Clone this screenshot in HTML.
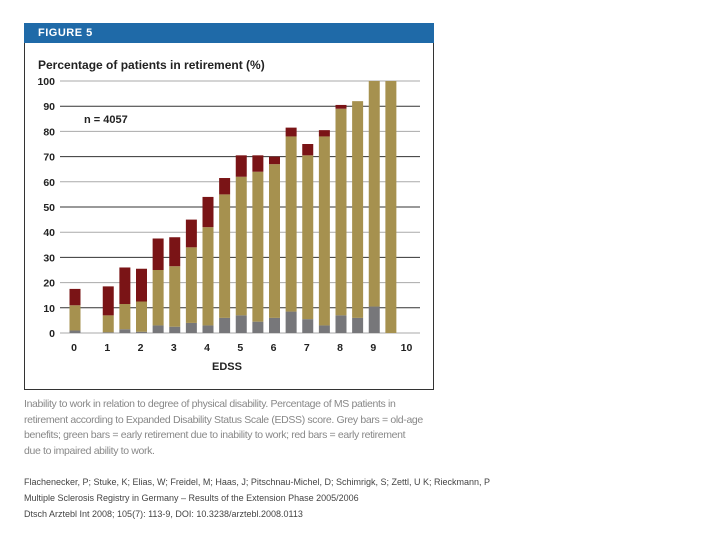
<!DOCTYPE html>
<html><head><meta charset="utf-8"><style>
body{margin:0;width:720px;height:540px;background:#fff;position:relative;overflow:hidden;font-family:"Liberation Sans",sans-serif}
.abs{position:absolute}
</style></head><body>
<div class="abs" style="left:24px;top:23px;width:408px;height:366px;border:1px solid #333;border-top:none"></div>
<div class="abs" style="left:24px;top:23px;width:410px;height:20px;background:#1f6aa8;color:#fff;font-weight:bold;font-size:11px;line-height:20px;padding-left:14px;box-sizing:border-box;letter-spacing:0.5px">FIGURE 5</div>
<svg class="abs" style="left:0;top:0" width="720" height="540">
<text x="38" y="69" font-size="12" font-weight="bold" fill="#222">Percentage of patients in retirement (%)</text>
<text x="84" y="123" font-size="11" font-weight="bold" fill="#222">n = 4057</text>
<text x="212" y="370" font-size="11" font-weight="bold" fill="#222">EDSS</text>
<g id="g"></g>
</svg>
<div class="abs" style="left:24px;top:397px;font-size:10.5px;line-height:15.5px;color:#888;white-space:nowrap;letter-spacing:-0.35px">Inability to work in relation to degree of physical disability. Percentage of MS patients in<br>retirement according to Expanded Disability Status Scale (EDSS) score. Grey bars = old-age<br>benefits; green bars = early retirement due to inability to work; red bars = early retirement<br>due to impaired ability to work.</div>
<div class="abs" style="left:24px;top:474px;font-size:9px;line-height:16px;color:#444;white-space:nowrap">Flachenecker, P; Stuke, K; Elias, W; Freidel, M; Haas, J; Pitschnau-Michel, D; Schimrigk, S; Zettl, U K; Rieckmann, P<br>Multiple Sclerosis Registry in Germany – Results of the Extension Phase 2005/2006<br>Dtsch Arztebl Int 2008; 105(7): 113-9, DOI: 10.3238/arztebl.2008.0113</div>
<script>
const categories=[0,1,1.5,2,2.5,3,3.5,4,4.5,5,5.5,6,6.5,7,7.5,8,8.5,9,9.5];
const greyValues=[1,0.3,1.5,0.5,3,2.5,4,3,6,7,4.5,6,8.5,5.5,3,7,6,10.5,0];
const greenTops=[11,7,11.5,12.5,25,26.5,34,42,55,62,64,67,78,70.5,78,89,92,100,100];
const totals=[17.5,18.5,26,25.5,37.5,38,45,54,61.5,70.5,70.5,70,81.5,75,80.5,90.5,92,100,100];
const yTicks=[0,10,20,30,40,50,60,70,80,90,100];
const xTicks=[0,1,2,3,4,5,6,7,8,9,10];
const ns="http://www.w3.org/2000/svg",g=document.getElementById('g');
const y=v=>333-v*2.52, x=v=>75+v*33.25;
function mk(t,a){const e=document.createElementNS(ns,t);for(const k in a)e.setAttribute(k,a[k]);g.appendChild(e);return e;}
yTicks.forEach((t,i)=>{
 const l=mk('line',{x1:60,x2:420,y1:y(t),y2:y(t),stroke:i%2?'#333':'#aaa','stroke-width':1});
 
 
 const tx=mk('text',{x:55,y:y(t)+4,'font-size':10.5,'font-weight':'bold','text-anchor':'end',fill:'#222'});tx.textContent=t;
 
 
});
xTicks.forEach(t=>{
 const tx=mk('text',{x:x(t)-1,y:351,'font-size':10.5,'font-weight':'bold','text-anchor':'middle',fill:'#222'});tx.textContent=t;
 
 
});
categories.forEach((c,i)=>{
 const cx=x(c),w=11;
 const segs=[[0,greyValues[i],'#77777a','bar-grey'],[greyValues[i],greenTops[i],'#a6914f','bar-green'],[greenTops[i],totals[i],'#7a1416','bar-red']];
 segs.forEach(s=>{ if(s[1]-s[0]<=0)return;
  const r=mk('rect',{x:cx-w/2,y:y(s[1]),width:w,height:y(s[0])-y(s[1]),fill:s[2]});
  
  
 });
});
</script>
</body></html>
